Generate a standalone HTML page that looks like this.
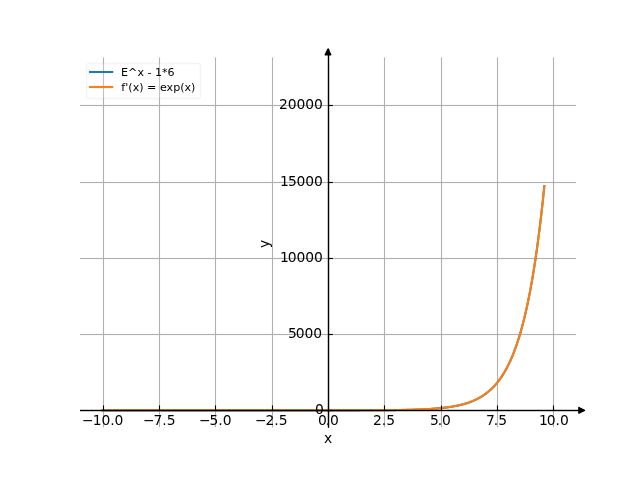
<!DOCTYPE html>
<html lang="en"><head><meta charset="utf-8"><title>Plot</title>
<style>html,body{margin:0;padding:0;background:#fff;overflow:hidden}svg{display:block}text{font-family:"DejaVu Sans","Liberation Sans",sans-serif;fill:#000}.t{font-size:13.889px}.l{font-size:11.111px}.g{stroke:#b0b0b0;stroke-width:1.111;fill:none}.k{stroke:#000;stroke-width:1.111;fill:none}.a{stroke:#000;stroke-width:1.389;fill:none;stroke-linecap:round}</style></head><body>
<svg width="640" height="480" viewBox="0 0 640 480">
<rect width="640" height="480" fill="#fff"/>
<path class="g" d="M103.5 427.2V57.6M159.5 427.2V57.6M215.5 427.2V57.6M272.5 427.2V57.6M328.5 427.2V57.6M384.5 427.2V57.6M441.5 427.2V57.6M497.5 427.2V57.6M553.5 427.2V57.6"/>
<rect x="80.00" y="410" width="496.00" height="1" fill="#b0b0b0"/><rect x="80.00" y="409" width="496.00" height="1" fill="#b0b0b0" opacity="0.063"/><rect x="80.00" y="411" width="496.00" height="1" fill="#b0b0b0" opacity="0.063"/>
<rect x="80.00" y="334" width="496.00" height="1" fill="#b0b0b0"/><rect x="80.00" y="333" width="496.00" height="1" fill="#b0b0b0" opacity="0.063"/><rect x="80.00" y="335" width="496.00" height="1" fill="#b0b0b0" opacity="0.063"/>
<rect x="80.00" y="258" width="496.00" height="1" fill="#b0b0b0"/><rect x="80.00" y="257" width="496.00" height="1" fill="#b0b0b0" opacity="0.063"/><rect x="80.00" y="259" width="496.00" height="1" fill="#b0b0b0" opacity="0.063"/>
<rect x="80.00" y="182" width="496.00" height="1" fill="#b0b0b0"/><rect x="80.00" y="181" width="496.00" height="1" fill="#b0b0b0" opacity="0.063"/><rect x="80.00" y="183" width="496.00" height="1" fill="#b0b0b0" opacity="0.063"/>
<rect x="80.00" y="105" width="496.00" height="1" fill="#b0b0b0"/><rect x="80.00" y="104" width="496.00" height="1" fill="#b0b0b0" opacity="0.063"/><rect x="80.00" y="106" width="496.00" height="1" fill="#b0b0b0" opacity="0.063"/>
<polyline points="102.55,410.40 104.02,410.40 105.50,410.40 106.98,410.40 108.46,410.40 109.93,410.40 111.41,410.40 112.89,410.40 114.37,410.40 115.84,410.40 117.32,410.40 118.80,410.40 120.28,410.40 121.75,410.40 123.23,410.40 124.71,410.40 126.19,410.40 127.66,410.40 129.14,410.40 130.62,410.40 132.10,410.40 133.57,410.40 135.05,410.40 136.53,410.40 138.01,410.40 139.48,410.40 140.96,410.40 142.44,410.40 143.92,410.40 145.39,410.40 146.87,410.40 148.35,410.40 149.83,410.40 151.30,410.40 152.78,410.40 154.26,410.40 155.74,410.40 157.22,410.40 158.69,410.40 160.17,410.40 161.65,410.40 163.13,410.40 164.60,410.40 166.08,410.40 167.56,410.40 169.04,410.40 170.51,410.40 171.99,410.40 173.47,410.40 174.95,410.40 176.42,410.40 177.90,410.40 179.38,410.40 180.86,410.40 182.33,410.40 183.81,410.40 185.29,410.40 186.77,410.40 188.24,410.40 189.72,410.40 191.20,410.40 192.68,410.40 194.15,410.40 195.63,410.40 197.11,410.40 198.59,410.40 200.06,410.40 201.54,410.40 203.02,410.40 204.50,410.40 205.97,410.40 207.45,410.40 208.93,410.40 210.41,410.40 211.88,410.40 213.36,410.40 214.84,410.40 216.32,410.40 217.79,410.40 219.27,410.40 220.75,410.40 222.23,410.40 223.71,410.40 225.18,410.40 226.66,410.40 228.14,410.40 229.62,410.40 231.09,410.40 232.57,410.40 234.05,410.40 235.53,410.40 237.00,410.40 238.48,410.40 239.96,410.40 241.44,410.40 242.91,410.40 244.39,410.40 245.87,410.40 247.35,410.40 248.82,410.40 250.30,410.40 251.78,410.40 253.26,410.40 254.73,410.40 256.21,410.40 257.69,410.40 259.17,410.40 260.64,410.40 262.12,410.40 263.60,410.40 265.08,410.40 266.55,410.40 268.03,410.40 269.51,410.40 270.99,410.40 272.46,410.40 273.94,410.40 275.42,410.40 276.90,410.40 278.37,410.40 279.85,410.40 281.33,410.40 282.81,410.40 284.28,410.40 285.76,410.40 287.24,410.40 288.72,410.40 290.20,410.40 291.67,410.40 293.15,410.40 294.63,410.40 296.11,410.40 297.58,410.40 299.06,410.40 300.54,410.40 302.02,410.40 303.49,410.40 304.97,410.39 306.45,410.39 307.93,410.39 309.40,410.39 310.88,410.39 312.36,410.39 313.84,410.39 315.31,410.39 316.79,410.39 318.27,410.39 319.75,410.39 321.22,410.39 322.70,410.39 324.18,410.39 325.66,410.39 327.13,410.39 328.61,410.38 330.09,410.38 331.57,410.38 333.04,410.38 334.52,410.38 336.00,410.38 337.48,410.38 338.95,410.38 340.43,410.37 341.91,410.37 343.39,410.37 344.86,410.37 346.34,410.37 347.82,410.36 349.30,410.36 350.77,410.36 352.25,410.36 353.73,410.35 355.21,410.35 356.69,410.35 358.16,410.34 359.64,410.34 361.12,410.33 362.60,410.33 364.07,410.32 365.55,410.32 367.03,410.31 368.51,410.31 369.98,410.30 371.46,410.30 372.94,410.29 374.42,410.28 375.89,410.27 377.37,410.26 378.85,410.25 380.33,410.25 381.80,410.23 383.28,410.22 384.76,410.21 386.24,410.20 387.71,410.18 389.19,410.17 390.67,410.15 392.15,410.14 393.62,410.12 395.10,410.10 396.58,410.08 398.06,410.06 399.53,410.04 401.01,410.01 402.49,409.99 403.97,409.96 405.44,409.93 406.92,409.90 408.40,409.86 409.88,409.82 411.35,409.79 412.83,409.74 414.31,409.70 415.79,409.65 417.27,409.60 418.74,409.55 420.22,409.49 421.70,409.43 423.18,409.36 424.65,409.29 426.13,409.22 427.61,409.14 429.09,409.05 430.56,408.96 432.04,408.86 433.52,408.76 435.00,408.65 436.47,408.53 437.95,408.40 439.43,408.26 440.91,408.12 442.38,407.96 443.86,407.80 445.34,407.62 446.82,407.44 448.29,407.23 449.77,407.02 451.25,406.79 452.73,406.55 454.20,406.29 455.68,406.01 457.16,405.71 458.64,405.39 460.11,405.05 461.59,404.69 463.07,404.30 464.55,403.89 466.02,403.45 467.50,402.98 468.98,402.48 470.46,401.94 471.93,401.37 473.41,400.75 474.89,400.10 476.37,399.40 477.84,398.66 479.32,397.86 480.80,397.01 482.28,396.11 483.76,395.14 485.23,394.11 486.71,393.00 488.19,391.82 489.67,390.56 491.14,389.22 492.62,387.79 494.10,386.26 495.58,384.62 497.05,382.87 498.53,381.01 500.01,379.02 501.49,376.89 502.96,374.62 504.44,372.20 505.92,369.61 507.40,366.85 508.87,363.90 510.35,360.75 511.83,357.39 513.31,353.80 514.78,349.96 516.26,345.87 517.74,341.50 519.22,336.83 520.69,331.85 522.17,326.53 523.65,320.85 525.13,314.78 526.60,308.31 528.08,301.39 529.56,294.01 531.04,286.12 532.51,277.71 533.99,268.72 535.47,259.12 536.95,248.88 538.42,237.94 539.90,226.25 541.38,213.78 542.86,200.46 544.33,186.24" fill="none" stroke="#1f77b4" stroke-width="2.083" stroke-linecap="square" stroke-linejoin="round"/>
<polyline points="102.55,410.31 104.02,410.31 105.50,410.31 106.98,410.31 108.46,410.31 109.93,410.31 111.41,410.31 112.89,410.31 114.37,410.31 115.84,410.31 117.32,410.31 118.80,410.31 120.28,410.31 121.75,410.31 123.23,410.31 124.71,410.31 126.19,410.31 127.66,410.31 129.14,410.31 130.62,410.31 132.10,410.31 133.57,410.31 135.05,410.31 136.53,410.31 138.01,410.31 139.48,410.31 140.96,410.31 142.44,410.31 143.92,410.31 145.39,410.31 146.87,410.31 148.35,410.31 149.83,410.31 151.30,410.31 152.78,410.31 154.26,410.31 155.74,410.31 157.22,410.31 158.69,410.31 160.17,410.31 161.65,410.31 163.13,410.31 164.60,410.31 166.08,410.31 167.56,410.31 169.04,410.31 170.51,410.31 171.99,410.31 173.47,410.31 174.95,410.31 176.42,410.31 177.90,410.31 179.38,410.31 180.86,410.31 182.33,410.31 183.81,410.31 185.29,410.31 186.77,410.31 188.24,410.31 189.72,410.31 191.20,410.31 192.68,410.31 194.15,410.31 195.63,410.31 197.11,410.31 198.59,410.31 200.06,410.31 201.54,410.31 203.02,410.31 204.50,410.31 205.97,410.31 207.45,410.31 208.93,410.31 210.41,410.31 211.88,410.31 213.36,410.31 214.84,410.31 216.32,410.31 217.79,410.31 219.27,410.31 220.75,410.31 222.23,410.31 223.71,410.31 225.18,410.31 226.66,410.31 228.14,410.31 229.62,410.31 231.09,410.31 232.57,410.31 234.05,410.31 235.53,410.31 237.00,410.31 238.48,410.31 239.96,410.31 241.44,410.31 242.91,410.31 244.39,410.31 245.87,410.31 247.35,410.31 248.82,410.31 250.30,410.31 251.78,410.31 253.26,410.31 254.73,410.31 256.21,410.31 257.69,410.31 259.17,410.31 260.64,410.31 262.12,410.31 263.60,410.31 265.08,410.31 266.55,410.31 268.03,410.31 269.51,410.31 270.99,410.31 272.46,410.31 273.94,410.31 275.42,410.31 276.90,410.31 278.37,410.31 279.85,410.31 281.33,410.31 282.81,410.31 284.28,410.31 285.76,410.31 287.24,410.31 288.72,410.31 290.20,410.31 291.67,410.31 293.15,410.31 294.63,410.31 296.11,410.31 297.58,410.30 299.06,410.30 300.54,410.30 302.02,410.30 303.49,410.30 304.97,410.30 306.45,410.30 307.93,410.30 309.40,410.30 310.88,410.30 312.36,410.30 313.84,410.30 315.31,410.30 316.79,410.30 318.27,410.30 319.75,410.30 321.22,410.30 322.70,410.30 324.18,410.30 325.66,410.30 327.13,410.29 328.61,410.29 330.09,410.29 331.57,410.29 333.04,410.29 334.52,410.29 336.00,410.29 337.48,410.29 338.95,410.28 340.43,410.28 341.91,410.28 343.39,410.28 344.86,410.28 346.34,410.27 347.82,410.27 349.30,410.27 350.77,410.27 352.25,410.26 353.73,410.26 355.21,410.26 356.69,410.25 358.16,410.25 359.64,410.25 361.12,410.24 362.60,410.24 364.07,410.23 365.55,410.23 367.03,410.22 368.51,410.22 369.98,410.21 371.46,410.20 372.94,410.20 374.42,410.19 375.89,410.18 377.37,410.17 378.85,410.16 380.33,410.15 381.80,410.14 383.28,410.13 384.76,410.12 386.24,410.11 387.71,410.09 389.19,410.08 390.67,410.06 392.15,410.05 393.62,410.03 395.10,410.01 396.58,409.99 398.06,409.97 399.53,409.94 401.01,409.92 402.49,409.89 403.97,409.87 405.44,409.84 406.92,409.80 408.40,409.77 409.88,409.73 411.35,409.69 412.83,409.65 414.31,409.61 415.79,409.56 417.27,409.51 418.74,409.46 420.22,409.40 421.70,409.34 423.18,409.27 424.65,409.20 426.13,409.12 427.61,409.04 429.09,408.96 430.56,408.87 432.04,408.77 433.52,408.66 435.00,408.55 436.47,408.43 437.95,408.31 439.43,408.17 440.91,408.03 442.38,407.87 443.86,407.71 445.34,407.53 446.82,407.34 448.29,407.14 449.77,406.93 451.25,406.70 452.73,406.46 454.20,406.19 455.68,405.92 457.16,405.62 458.64,405.30 460.11,404.96 461.59,404.60 463.07,404.21 464.55,403.80 466.02,403.36 467.50,402.89 468.98,402.38 470.46,401.85 471.93,401.27 473.41,400.66 474.89,400.01 476.37,399.31 477.84,398.57 479.32,397.77 480.80,396.92 482.28,396.02 483.76,395.05 485.23,394.01 486.71,392.91 488.19,391.73 489.67,390.47 491.14,389.13 492.62,387.70 494.10,386.16 495.58,384.53 497.05,382.78 498.53,380.92 500.01,378.93 501.49,376.80 502.96,374.53 504.44,372.11 505.92,369.52 507.40,366.76 508.87,363.81 510.35,360.66 511.83,357.30 513.31,353.71 514.78,349.87 516.26,345.78 517.74,341.41 519.22,336.74 520.69,331.76 522.17,326.44 523.65,320.76 525.13,314.69 526.60,308.21 528.08,301.30 529.56,293.92 531.04,286.03 532.51,277.61 533.99,268.63 535.47,259.03 536.95,248.78 538.42,237.84 539.90,226.16 541.38,213.69 542.86,200.37 544.33,186.15" fill="none" stroke="#ff7f0e" stroke-width="2.083" stroke-linecap="square" stroke-linejoin="round"/>
<path class="k" d="M103.5 410.31v-4.86M159.5 410.31v-4.86M215.5 410.31v-4.86M272.5 410.31v-4.86M328.5 410.31v-4.86M384.5 410.31v-4.86M441.5 410.31v-4.86M497.5 410.31v-4.86M553.5 410.31v-4.86"/>
<rect x="80.00" y="410" width="504.45" height="1" fill="#000"/><rect x="80.00" y="409" width="504.45" height="1" fill="#000" opacity="0.196"/><rect x="80.00" y="411" width="504.45" height="1" fill="#000" opacity="0.196"/>
<path d="M578.89 407.53L584.45 410.31L578.89 413.09Z" fill="#000" stroke="#000" stroke-width="1.389" stroke-linejoin="round"/>
<text class="t" x="81.03" y="424.73" dx="1 -1 0 0 -0.25">−10.0</text>
<text class="t" x="141.93" y="424.73" dx="1 -1 -0.25 0.25">−7.5</text>
<text class="t" x="197.92" y="424.73" dx="1 -1 -0.25 0.25">−5.0</text>
<text class="t" x="253.91" y="424.73" dx="1 -1 -0.25 0.25">−2.5</text>
<text class="t" x="316.96" y="424.98" dx="1 -1 -0.25">0.0</text>
<text class="t" x="372.95" y="424.73">2.5</text>
<text class="t" x="428.69" y="424.73" dx="1.25 -1 -0.25">5.0</text>
<text class="t" x="484.93" y="424.73" dx="1 -1 0">7.5</text>
<text class="t" x="537.88" y="424.73" dx="1 -1 0 0">10.0</text>
<text class="t" x="323.89" y="442.67">x</text>
<rect x="328.00" y="410" width="4.86" height="1" fill="#000"/><rect x="328.00" y="409" width="4.86" height="1" fill="#000" opacity="0.075"/><rect x="328.00" y="411" width="4.86" height="1" fill="#000" opacity="0.075"/>
<rect x="328.00" y="334" width="4.86" height="1" fill="#000"/><rect x="328.00" y="333" width="4.86" height="1" fill="#000" opacity="0.075"/><rect x="328.00" y="335" width="4.86" height="1" fill="#000" opacity="0.075"/>
<rect x="328.00" y="258" width="4.86" height="1" fill="#000"/><rect x="328.00" y="257" width="4.86" height="1" fill="#000" opacity="0.075"/><rect x="328.00" y="259" width="4.86" height="1" fill="#000" opacity="0.075"/>
<rect x="328.00" y="182" width="4.86" height="1" fill="#000"/><rect x="328.00" y="181" width="4.86" height="1" fill="#000" opacity="0.075"/><rect x="328.00" y="183" width="4.86" height="1" fill="#000" opacity="0.075"/>
<rect x="328.00" y="105" width="4.86" height="1" fill="#000"/><rect x="328.00" y="104" width="4.86" height="1" fill="#000" opacity="0.075"/><rect x="328.00" y="106" width="4.86" height="1" fill="#000" opacity="0.075"/>
<path class="a" d="M328.5 427.2V49.15"/>
<path d="M325.22 54.71L328.00 49.15L330.78 54.71Z" fill="#000" stroke="#000" stroke-width="1.389" stroke-linejoin="round"/>
<text class="t" x="314.94" y="413.64">0</text>
<text class="t" x="286.83" y="337.64" dx="1.25 -1.25 0 0">5000</text>
<text class="t" x="278.87" y="261.64" dx="1.25 -1.25 0 0 -0.25">10000</text>
<text class="t" x="278.87" y="185.64" dx="1.25 -1 -0.25 0 -0.25">15000</text>
<text class="t" x="278.75" y="108.64" dx="0.25 0 -0.25 0 0">20000</text>
<text class="t" x="268.62" y="243.77" text-anchor="middle" transform="rotate(-90 268.62 243.77)">y</text>
<rect x="86.5" y="63.5" width="114.0" height="35.0" rx="2.2" ry="2.2" fill="#fff" stroke="#ccc" stroke-width="1.389" opacity="0.2"/>
<path d="M90.00 72.00H112.22" stroke="#1f77b4" stroke-width="2.083" stroke-linecap="square" fill="none"/>
<text class="l" x="120.99" y="75.54" dx="0 0 0.25 -0.25 0 0 0 0 -0.25">E^x - 1*6</text>
<path d="M90.00 87.00H112.22" stroke="#ff7f0e" stroke-width="2.083" stroke-linecap="square" fill="none"/>
<text class="l" x="121.36" y="90.60">f'(x) = exp(x)</text>
</svg></body></html>
